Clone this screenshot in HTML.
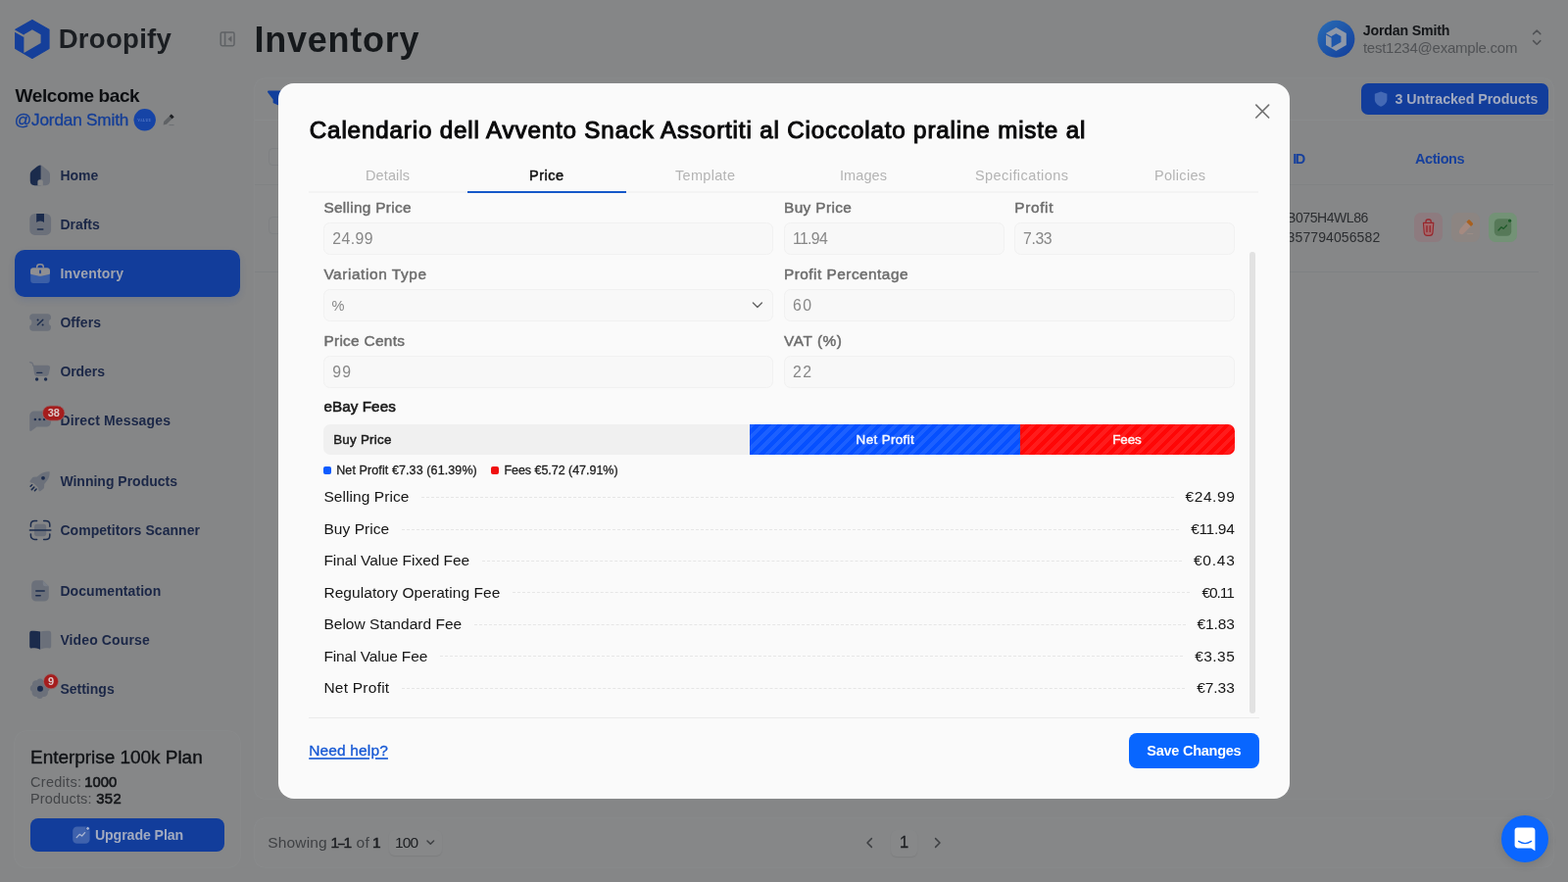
<!DOCTYPE html>
<html lang="en">
<head>
<meta charset="utf-8">
<title>Droopify - Inventory</title>
<style>
*{box-sizing:border-box;margin:0;padding:0}
html,body{width:1600px;height:900px;overflow:hidden}
body{background:#858687;font-family:"Liberation Sans",sans-serif;color:#111;position:relative}
.t{position:absolute;white-space:pre;font-family:"Liberation Sans",sans-serif}
.a{position:absolute}
svg.a{left:0;top:0;overflow:visible}
.stripe{background-image:repeating-linear-gradient(135deg,rgba(255,255,255,.09) 0,rgba(255,255,255,.09) 4px,rgba(255,255,255,0) 4px,rgba(255,255,255,0) 8px)}
.dl{position:absolute;height:0;border-top:1px dashed #e6e6e6}
.inp{position:absolute;height:32.4px;border:1px solid #f1f1f1;border-radius:6.5px;background:#f8f8f8}
</style>
</head>
<body>
<!-- ================= BACKGROUND PAGE (dimmed) ================= -->
<div class="a" style="left:260px;top:80px;width:1325px;height:735px;border-radius:10px;background:#868788;box-shadow:0 0 0 .6px #8a8c8d"></div>
<div class="a" style="left:260px;top:834.5px;width:1325px;height:50.5px;border-radius:10px;background:#868788;box-shadow:0 0 0 .6px #8a8c8d"></div>
<div class="a" style="left:260px;top:121.6px;width:1325px;height:1px;background:#898b8c"></div>
<div class="a" style="left:1316px;top:187.5px;width:269px;height:1px;background:#808284"></div>
<div class="a" style="left:1316px;top:277px;width:254px;height:1px;background:#7f8183"></div>
<div class="a" style="left:260px;top:187.5px;width:30px;height:1px;background:#808284"></div>
<div class="a" style="left:260px;top:277px;width:30px;height:1px;background:#7f8183"></div>
<div class="a" style="left:273.5px;top:151px;width:18px;height:18px;border:1px solid #7f8183;border-radius:4px"></div>
<div class="a" style="left:273.5px;top:221px;width:18px;height:18px;border:1px solid #7f8183;border-radius:4px"></div>
<!-- active nav -->
<div class="a" style="left:15px;top:255px;width:230px;height:48px;border-radius:10px;background:#123d9b;box-shadow:0 3px 7px rgba(18,61,155,.14)"></div>
<!-- plan card -->
<div class="a" style="left:15px;top:746px;width:230px;height:139px;border-radius:12px;background:#868788;box-shadow:0 0 0 .6px #8a8c8d"></div>
<div class="a" style="left:31px;top:835px;width:198px;height:34px;border-radius:8px;background:#123d9b"></div>
<!-- untracked button -->
<div class="a" style="left:1389px;top:85.2px;width:191px;height:31.6px;border-radius:7px;background:#123d9b"></div>
<!-- action buttons -->
<div class="a" style="left:1442.8px;top:217.2px;width:29.4px;height:29.4px;border-radius:7px;background:#8d7b7f"></div>
<div class="a" style="left:1480.6px;top:217.2px;width:29.4px;height:29.4px;border-radius:7px;background:#8c8582"></div>
<div class="a" style="left:1518.6px;top:217.2px;width:29.4px;height:29.4px;border-radius:7px;background:#739276"></div>
<!-- pagination select + page -->
<div class="a" style="left:396.5px;top:847px;width:54px;height:26px;border-radius:6px;background:#878889;box-shadow:0 1px 1.5px rgba(0,0,0,.07)"></div>
<div class="a" style="left:908.5px;top:846.5px;width:27.5px;height:27.5px;border-radius:6px;background:#878889;box-shadow:0 1px 1.5px rgba(0,0,0,.08)"></div>
<!-- chat bubble -->
<div class="a" style="left:1532px;top:832px;width:48px;height:48px;border-radius:50%;background:#0a66ff;box-shadow:0 2px 10px rgba(0,0,0,.12)"></div>

<svg class="a" width="1600" height="900" viewBox="0 0 1600 900">
<defs>
<linearGradient id="av" x1="0" y1="0" x2="1" y2="1"><stop offset="0" stop-color="#2a6db5"/><stop offset="1" stop-color="#123d9b"/></linearGradient>
</defs>
<!-- logo -->
<g id="logo">
<path d="M32.9 20.4 50 30.2V49.6L32.9 59.4 15.7 49.6V30.2Z" fill="#153f9a" stroke="#153f9a" stroke-width="1.2" stroke-linejoin="round"/>
<path d="M32.9 30.3 41.6 35.3V43.9L24.4 53.9V35.2Z" fill="#858687"/>
<path d="M24.9 37.2 13.8 30.9" stroke="#858687" stroke-width="2.1" fill="none"/>
</g>
<!-- collapse icon -->
<g fill="none" stroke="#5f6265" stroke-width="1.5">
<rect x="225.2" y="32.9" width="13.8" height="13.8" rx="1.6"/>
<path d="M229.6 32.9V46.7"/>
<path d="M236.1 37.2 232.9 39.8 236.1 42.4Z" fill="#5f6265" stroke-width=".6"/>
</g>
<!-- user badge + pencil -->
<circle cx="147.7" cy="122.3" r="11.2" fill="#1644a6"/>
<g>
<path d="M174.8 116.4 177.6 119.2 170 126.8 166.6 127.4 167.2 124Z" fill="#5f6265"/>
<path d="M174.8 116.4 177.6 119.2 175.6 121.2 172.8 118.4Z" fill="#1d1f22"/>
<path d="M172.5 127.6H177.5" stroke="#6c6f72" stroke-width="1"/>
</g>
<!-- avatar -->
<circle cx="1363.4" cy="39.8" r="19" fill="url(#av)"/>
<g>
<path d="M1363.4 28 1373.8 34V46L1363.4 52 1353 46V34Z" fill="#8f98a8"/>
<path d="M1363.4 34.2 1368.4 37.1V42.9L1358.6 48.6V37Z" fill="#1e56aa"/>
<path d="M1359 38.3 1352.4 34.5" stroke="#1e56aa" stroke-width="1.2"/>
</g>
<g fill="none" stroke="#505255" stroke-width="1.5" stroke-linecap="round" stroke-linejoin="round">
<path d="M1564.6 34.6 1568.2 31 1571.8 34.6"/>
<path d="M1564.6 41.6 1568.2 45.2 1571.8 41.6"/>
</g>
<!-- filter icon -->
<path d="M274 93.6H291L284.6 101.2V106.6L279.6 104.4V101.2Z" fill="#123f9c" stroke="#123f9c" stroke-width="2" stroke-linejoin="round"/>
<!-- shield icon -->
<path d="M1409.1 93.4 1415.4 95.8V101.2C1415.4 104.8 1412.8 107.4 1409.1 108.7 1405.4 107.4 1402.8 104.8 1402.8 101.2V95.8Z" fill="#4469b5"/>
<!-- NAV ICONS -->
<!-- home -->
<g>
<path d="M41 168.6C42 168.6 43 169 44.6 170.4L48.6 173.8C50.4 175.4 51 176.4 51 178.6V184.6C51 187.6 49.4 189.2 46.4 189.2H35.4C32.4 189.2 30.8 187.6 30.8 184.6V178.6C30.8 176.4 31.4 175.4 33.2 173.8L37.2 170.4C38.8 169 40 168.6 41 168.6Z" fill="#6b707a"/>
<path d="M41.6 168.7V189.2H35.4C32.4 189.2 30.8 187.6 30.8 184.6V178.6C30.8 176.4 31.4 175.4 33.2 173.8L37.2 170.4C38.8 169 40.4 168.5 41.6 168.7Z" fill="#1b2b4c"/>
</g>
<path d="M38.4 189.6V185.4C38.4 184 39.4 183.2 40.8 183.2H41.4C42.8 183.2 43.8 184 43.8 185.4V189.6Z" fill="#858687"/>
<!-- drafts -->
<g>
<rect x="30.3" y="217.9" width="21.8" height="22" rx="5.4" fill="#6b707a"/>
<path d="M37.2 217.9H45V227.1L43.4 226.1C42.2 225.3 40 225.3 38.8 226.1L37.2 227.1Z" fill="#1b2b4c"/>
<path d="M38.4 234H43.8" stroke="#1b2b4c" stroke-width="1.5" stroke-linecap="round"/>
</g>
<!-- inventory (active) -->
<g>
<rect x="31.2" y="277" width="19.6" height="12" rx="3" fill="#3b5fa7"/>
<path d="M37.7 273.4V272.4C37.7 270.8 38.9 269.7 40.5 269.7H41.5C43.1 269.7 44.3 270.8 44.3 272.4V273.4" fill="none" stroke="#8f8f92" stroke-width="1.5"/>
<path d="M34 273.2H48C49.8 273.2 51 274.4 51 276.2V278.4C51 279.2 50.6 279.8 49.8 280L41.8 281.7C41.2 281.8 40.8 281.8 40.2 281.7L32.2 280C31.4 279.8 31 279.2 31 278.4V276.2C31 274.4 32.2 273.2 34 273.2Z" fill="#8f8f92"/>
<rect x="40.1" y="275.6" width="1.8" height="3.6" rx=".6" fill="#1d4291"/>
</g>
<!-- offers -->
<g>
<path d="M33.6 320.2H48.6C50.6 320.2 52 321.6 52 323.4V325.4C50.6 325.8 49.8 327.2 49.8 329 49.8 330.8 50.6 332.2 52 332.6V334.6C52 336.4 50.6 337.8 48.6 337.8H33.6C31.6 337.8 30.2 336.4 30.2 334.6V332.6C31.6 332.2 32.4 330.8 32.4 329 32.4 327.2 31.6 325.8 30.2 325.4V323.4C30.2 321.6 31.6 320.2 33.6 320.2Z" fill="#6b707a"/>
<path d="M38.4 331.6 43.8 326.2" stroke="#1b2b4c" stroke-width="1.4" stroke-linecap="round"/>
<circle cx="38.6" cy="326.6" r="1" fill="#1b2b4c"/><circle cx="43.6" cy="331.4" r="1" fill="#1b2b4c"/>
</g>
<!-- orders -->
<g>
<path d="M30.6 369.6 32 370C32.8 370.2 33.2 370.6 33.4 371.4L34 373.4" fill="none" stroke="#6b707a" stroke-width="1.3" stroke-linecap="round"/>
<path d="M33.7 372.8H48.4C50.4 372.8 51.4 374 51 375.8L49.8 381.2C49.4 383 48.2 383.8 46.4 383.8H38.2C36.4 383.8 35.4 383 35 381.2Z" fill="#6b707a"/>
<path d="M37.8 380.4H42.8" stroke="#1b2b4c" stroke-width="1.3" stroke-linecap="round"/>
<circle cx="37.6" cy="387" r="1.7" fill="#1b2b4c"/><circle cx="46.6" cy="387" r="1.7" fill="#1b2b4c"/>
</g>
<!-- direct messages -->
<g>
<path d="M35.4 419.4H47C50 419.4 52 421.4 52 424.4V430.6C52 433.6 50 435.6 47 435.6H37.6L32.2 439.6C31 440.4 30.2 440 30.2 438.6V424.4C30.2 421.4 32.4 419.4 35.4 419.4Z" fill="#6b707a"/>
<circle cx="35.9" cy="428" r="1.25" fill="#1b2b4c"/><circle cx="40.5" cy="428" r="1.25" fill="#1b2b4c"/><circle cx="45.1" cy="428" r="1.25" fill="#1b2b4c"/>
</g>
<!-- winning products (rocket) -->
<g>
<path d="M50.6 481.2C50.9 484.5 50 488 48 490.5L45.2 494 45 497.2C45 498 44.6 498.6 44 499L41.4 501C40.4 501.6 39.6 501.2 39.4 500.2L38.8 497.6 34.2 493 31.6 492.4C30.6 492.2 30.2 491.4 30.8 490.4L32.8 487.8C33.2 487.2 33.8 486.8 34.6 486.8L37.8 486.6 41.3 483.8C43.8 481.8 47.3 480.9 50.6 481.2Z" fill="#6b707a"/>
<circle cx="44" cy="487.8" r="1.9" fill="#1b2b4c"/>
<path d="M31.1 496.3 32.7 494.7M32.3 499.6 34.8 497.1M35.4 500.7 37.1 499" stroke="#1b2b4c" stroke-width="1.5" stroke-linecap="round"/>
</g>
<!-- competitors scanner -->
<g>
<rect x="35" y="534.8" width="12.2" height="12.4" rx="3" fill="#6b707a"/>
<g fill="none" stroke="#1b2b4c" stroke-width="1.5" stroke-linecap="round">
<path d="M31.4 537.2V535.6C31.4 533.2 33 531.6 35.4 531.6H37.6"/>
<path d="M44.6 531.6H46.8C49.2 531.6 50.8 533.2 50.8 535.6V537.2"/>
<path d="M50.8 545V546.4C50.8 548.8 49.2 550.4 46.8 550.4H44.6"/>
<path d="M37.6 550.4H35.4C33 550.4 31.4 548.8 31.4 546.4V545"/>
<path d="M30.4 541H51.8"/>
</g>
</g>
<!-- documentation -->
<g>
<path d="M37 592.2H43.6L49.8 598.4V608.8C49.8 611.8 48 613.6 45 613.6H37C34 613.6 32.2 611.8 32.2 608.8V597C32.2 594 34 592.2 37 592.2Z" fill="#6b707a"/>
<path d="M43.8 592.6 49.4 598.2H46.2C44.6 598.2 43.8 597.4 43.8 595.8Z" fill="#7a7f88"/>
<path d="M36.8 603H45.2M36.8 607.8H41.2" stroke="#1b2b4c" stroke-width="1.5" stroke-linecap="round"/>
</g>
<!-- video course (book) -->
<g>
<path d="M41 644.6C43.8 643.7 47 643.5 50 643.8 51.4 644 52.2 644.8 52.2 646.2V659.4C52.2 660.8 51.2 661.5 50 661.4 47 661.2 43.8 661.6 41 662.8Z" fill="#6b707a"/>
<path d="M41 644.6C38.2 643.7 35.2 643.5 32.2 643.8 30.8 644 30.2 644.8 30.2 646.2V659.4C30.2 660.8 31 661.5 32.2 661.4 35.2 661.2 38.2 661.6 41 662.8Z" fill="#1b2b4c"/>
</g>
<!-- settings -->
<g>
<path d="M41 692.4C42.4 692.4 43.4 693 44 694.2 45 694 46.4 694.2 47.4 695.2 48.4 696.2 48.6 697.4 48.4 698.6 49.8 699.2 50.8 700.4 50.8 702 50.8 703.6 50 704.8 48.8 705.6 49.2 707 48.8 708.6 47.6 709.8 46.4 711 45 711.2 43.8 710.8 43.2 712.2 42.2 713 40.6 713 39 713 38 712.2 37.4 710.8 36 711.2 34.6 710.8 33.6 709.6 32.6 708.4 32.4 707 32.8 705.8 31.6 705 30.8 703.8 30.8 702.4 30.8 700.8 31.6 699.6 33 699 32.8 697.6 33.2 696.2 34.2 695.2 35.2 694.2 36.6 694 37.8 694.2 38.4 693 39.6 692.4 41 692.4Z" fill="#6b707a"/>
<circle cx="41" cy="702.8" r="3" fill="#1b2b4c"/>
</g>
<!-- upgrade icon -->
<g>
<rect x="74.2" y="843.4" width="17.4" height="17.4" rx="4.4" fill="#3f62ad"/>
<path d="M78.2 854.6 81.2 851.4 83.6 853 86.6 849.6" fill="none" stroke="#aab6d2" stroke-width="1.3" stroke-linecap="round" stroke-linejoin="round"/>
<circle cx="89.6" cy="845.4" r="1.9" fill="#aab6d2" stroke="#123d9b" stroke-width=".9"/>
</g>
<!-- action icons -->
<g>
<path d="M1452.4 227.4H1462.8L1462 237.4C1461.8 239.4 1460.8 240.4 1458.8 240.4H1456.4C1454.4 240.4 1453.4 239.4 1453.2 237.4Z" fill="#a3686b" stroke="#98262c" stroke-width="1.1" stroke-linejoin="round"/>
<path d="M1455 227V226C1455 224.8 1455.8 224 1457 224H1458.2C1459.4 224 1460.2 224.8 1460.2 226V227" fill="none" stroke="#98262c" stroke-width="1.3"/>
<path d="M1456 230.6V236.6M1459.2 230.6V236.6" stroke="#98262c" stroke-width="1.4" stroke-linecap="round"/>
</g>
<g>
<path d="M1496.4 226.2 1501 230.8 1493.6 238.2C1492.6 239.2 1491.4 239.4 1490.2 238.8 1489 238.2 1488.6 237 1489 235.8 1489.4 234.6 1489.8 233.6 1490.8 232.4Z" fill="#a58a80"/>
<path d="M1498 224.8C1498.6 224.2 1499.4 224.2 1500 224.8L1502.6 227.4C1503.2 228 1503.2 228.8 1502.6 229.4L1501 231 1496.4 226.4Z" fill="#a9601e"/>
<path d="M1497.6 238.6H1502.8" stroke="#9c8e86" stroke-width="1" stroke-linecap="round"/>
</g>
<g>
<rect x="1524.8" y="223.2" width="17.4" height="17.6" rx="4.6" fill="#567958"/>
<path d="M1529 235 1532 231.8 1534.2 233.4 1537.4 230" fill="none" stroke="#1f5a2a" stroke-width="1.3" stroke-linecap="round" stroke-linejoin="round"/>
<circle cx="1540.6" cy="225.2" r="1.6" fill="#1d5a29"/>
</g>
<!-- pagination chevrons -->
<g fill="none" stroke="#3d3f42" stroke-width="1.5" stroke-linecap="round" stroke-linejoin="round">
<path d="M436 858 439.3 861.3 442.6 858"/>
<path d="M889.4 855.6 885 860 889.4 864.4"/>
<path d="M954.6 855.6 959 860 954.6 864.4"/>
</g>
<!-- chat icon -->
<path d="M1548.4 844.4H1563.6C1565.2 844.4 1566.4 845.6 1566.4 847.2V868.2L1562.4 865.4H1548.4C1546.8 865.4 1545.6 864.2 1545.6 862.6V847.2C1545.6 845.6 1546.8 844.4 1548.4 844.4Z" fill="#ffffff"/>
<path d="M1549.6 858.4C1553.6 861.2 1558.6 861.2 1562.6 858.4" fill="none" stroke="#0a66ff" stroke-width="1.3" stroke-linecap="round"/>
</svg>
<span class="t" style="left:140.2px;top:119.6px;font-size:4px;line-height:5px;color:#6f8fd6;letter-spacing:.2px;font-family:'Liberation Serif',serif">VALUE</span>
<span class="t bg" style="left:59.70px;top:23.40px;font-size:27.6px;font-weight:700;color:#1a1d21;line-height:33px;letter-spacing:0.252px;">Droopify</span>
<span class="t bg" style="left:259.60px;top:19.00px;font-size:36px;font-weight:700;color:#15181b;line-height:43px;letter-spacing:0.744px;">Inventory</span>
<span class="t bg" style="left:15.60px;top:86.00px;font-size:19px;font-weight:700;color:#0c0e11;line-height:23px;letter-spacing:-0.423px;">Welcome back</span>
<span class="t bg" style="left:14.80px;top:111.50px;font-size:17.2px;font-weight:400;color:#133d97;line-height:21px;letter-spacing:-0.185px;-webkit-text-stroke:0.3px #133d97;">@Jordan Smith</span>
<span class="t bg nv" style="left:61.40px;top:170.90px;font-size:14px;font-weight:700;color:#1b2747;line-height:17px;letter-spacing:-0.002px;">Home</span>
<span class="t bg nv" style="left:61.40px;top:220.90px;font-size:14px;font-weight:700;color:#1b2747;line-height:17px;letter-spacing:-0.034px;">Drafts</span>
<span class="t bg nv" style="left:61.40px;top:270.90px;font-size:14px;font-weight:700;color:#9fa4b0;line-height:17px;letter-spacing:0.198px;">Inventory</span>
<span class="t bg nv" style="left:61.40px;top:320.90px;font-size:14px;font-weight:700;color:#1b2747;line-height:17px;letter-spacing:0.073px;">Offers</span>
<span class="t bg nv" style="left:61.40px;top:370.90px;font-size:14px;font-weight:700;color:#1b2747;line-height:17px;letter-spacing:-0.064px;">Orders</span>
<span class="t bg nv" style="left:61.40px;top:420.90px;font-size:14px;font-weight:700;color:#1b2747;line-height:17px;letter-spacing:0.149px;">Direct Messages</span>
<span class="t bg nv" style="left:61.40px;top:482.90px;font-size:14px;font-weight:700;color:#1b2747;line-height:17px;letter-spacing:-0.004px;">Winning Products</span>
<span class="t bg nv" style="left:61.40px;top:532.90px;font-size:14px;font-weight:700;color:#1b2747;line-height:17px;letter-spacing:0.056px;">Competitors Scanner</span>
<span class="t bg nv" style="left:61.40px;top:594.90px;font-size:14px;font-weight:700;color:#1b2747;line-height:17px;letter-spacing:0.084px;">Documentation</span>
<span class="t bg nv" style="left:61.40px;top:644.90px;font-size:14px;font-weight:700;color:#1b2747;line-height:17px;letter-spacing:0.118px;">Video Course</span>
<span class="t bg nv" style="left:61.40px;top:694.90px;font-size:14px;font-weight:700;color:#1b2747;line-height:17px;letter-spacing:0.009px;">Settings</span>
<span class="t bg" style="left:31.00px;top:760.80px;font-size:19px;font-weight:400;color:#0f1114;line-height:23px;letter-spacing:-0.036px;-webkit-text-stroke:.35px #0f1114;">Enterprise 100k Plan</span>
<span class="t bg" style="left:31.00px;top:789.80px;font-size:14.5px;font-weight:400;color:#434548;line-height:17px;letter-spacing:0.29px;">Credits:</span>
<span class="t bg" style="left:86.30px;top:789.30px;font-size:14.8px;font-weight:400;color:#141619;line-height:18px;letter-spacing:0.026px;-webkit-text-stroke:0.6px #141619;">1000</span>
<span class="t bg" style="left:31.00px;top:806.50px;font-size:14.5px;font-weight:400;color:#434548;line-height:17px;letter-spacing:0.156px;">Products:</span>
<span class="t bg" style="left:98.30px;top:806.00px;font-size:14.8px;font-weight:400;color:#141619;line-height:18px;letter-spacing:0.348px;-webkit-text-stroke:0.6px #141619;">352</span>
<span class="t bg" style="left:96.90px;top:843.50px;font-size:14.2px;font-weight:700;color:#a2aabf;line-height:17px;letter-spacing:-0.096px;">Upgrade Plan</span>
<span class="t bg" style="left:1390.70px;top:22.50px;font-size:14.2px;font-weight:700;color:#141619;line-height:17px;letter-spacing:-0.169px;">Jordan Smith</span>
<span class="t bg" style="left:1390.90px;top:40.40px;font-size:15px;font-weight:400;color:#505255;line-height:18px;letter-spacing:-0.236px;">test1234@example.com</span>
<span class="t bg" style="left:1423.60px;top:92.50px;font-size:14.2px;font-weight:700;color:#a2aabf;line-height:17px;letter-spacing:-0.045px;">3 Untracked Products</span>
<span class="t bg" style="left:1319.30px;top:153.70px;font-size:14.5px;font-weight:700;color:#17409c;line-height:17px;letter-spacing:-1.5px;">ID</span>
<span class="t bg" style="left:1444.00px;top:153.70px;font-size:14.5px;font-weight:700;color:#17409c;line-height:17px;letter-spacing:-0.429px;">Actions</span>
<span class="t bg" style="left:1313.00px;top:214.30px;font-size:14px;font-weight:400;color:#2b2d30;line-height:17px;letter-spacing:-0.419px;">B075H4WL86</span>
<span class="t bg" style="left:1313.60px;top:233.50px;font-size:14px;font-weight:400;color:#2b2d30;line-height:17px;letter-spacing:0.106px;">357794056582</span>
<span class="t bg" style="left:273.30px;top:850.30px;font-size:15.5px;font-weight:400;color:#3f4144;line-height:19px;letter-spacing:0.139px;">Showing</span>
<span class="t bg" style="left:337.60px;top:850.30px;font-size:15.5px;font-weight:400;color:#1c1e21;line-height:19px;-webkit-text-stroke:0.5px #1c1e21;">1</span>
<span class="t bg" style="left:345.00px;top:850.30px;font-size:15.5px;font-weight:400;color:#1c1e21;line-height:19px;-webkit-text-stroke:0.4px #1c1e21;transform:scaleX(.78);transform-origin:0 0;">–</span>
<span class="t bg" style="left:350.60px;top:850.30px;font-size:15.5px;font-weight:400;color:#1c1e21;line-height:19px;-webkit-text-stroke:0.5px #1c1e21;">1</span>
<span class="t bg" style="left:363.60px;top:850.30px;font-size:15.5px;font-weight:400;color:#3f4144;line-height:19px;letter-spacing:0.363px;">of</span>
<span class="t bg" style="left:380.00px;top:850.30px;font-size:15.5px;font-weight:400;color:#1c1e21;line-height:19px;-webkit-text-stroke:0.5px #1c1e21;">1</span>
<span class="t bg" style="left:403.00px;top:850.30px;font-size:15.5px;font-weight:400;color:#1c1e21;line-height:19px;letter-spacing:-0.887px;">100</span>
<span class="t bg" style="left:918.01px;top:849.30px;font-size:16.5px;font-weight:400;color:#1c1e21;line-height:20px;-webkit-text-stroke:0.3px #1c1e21;">1</span>
<svg class="a" width="1600" height="900" viewBox="0 0 1600 900">
<rect x="43.4" y="414" width="22.6" height="15.2" rx="7.6" fill="#a51d1d" stroke="#8d7475" stroke-width=".8"/>
<circle cx="52" cy="695.3" r="7.6" fill="#a51d1d" stroke="#8d7475" stroke-width=".8"/>
</svg>
<span class="t bd" style="left:48.67px;top:415.10px;font-size:11px;font-weight:700;color:#dcc8c8;line-height:13px;">38</span>
<span class="t bd" style="left:48.94px;top:688.90px;font-size:11px;font-weight:700;color:#dcc8c8;line-height:13px;">9</span>

<!-- ================= MODAL ================= -->
<div class="a" style="left:284px;top:84.8px;width:1032px;height:730.2px;border-radius:16px;background:#fafafa"></div>
<!-- tabs border -->
<div class="a" style="left:315px;top:194.8px;width:969.4px;height:2.2px;background:#f3f3f3"></div>
<div class="a" style="left:476.5px;top:194.8px;width:162px;height:2.2px;background:#1558c9"></div>
<!-- inputs -->
<div class="inp" style="left:330px;top:227.3px;width:459.4px"></div>
<div class="inp" style="left:800px;top:227.3px;width:224.8px"></div>
<div class="inp" style="left:1035px;top:227.3px;width:224.8px"></div>
<div class="inp" style="left:330px;top:295.3px;width:459.4px"></div>
<div class="inp" style="left:800px;top:295.3px;width:459.8px"></div>
<div class="inp" style="left:330px;top:363.3px;width:459.4px"></div>
<div class="inp" style="left:800px;top:363.3px;width:459.8px"></div>
<!-- fee bar -->
<div class="a" style="left:330px;top:432.5px;width:930px;height:31.8px;border-radius:7px;background:#f0f0f0;overflow:hidden">
  <div class="a stripe" style="left:435.2px;top:0;width:275.6px;height:100%;background-color:#0650ff"></div>
  <div class="a stripe" style="left:710.8px;top:0;width:219.2px;height:100%;background-color:#ff0606"></div>
</div>
<!-- legend squares -->
<div class="a" style="left:330px;top:476px;width:8px;height:8px;border-radius:2px;background:#0d5bff"></div>
<div class="a" style="left:501.4px;top:476px;width:8px;height:8px;border-radius:2px;background:#f01010"></div>
<i class="dl" style="left:430.4px;top:507.0px;width:767.2px"></i>
<i class="dl" style="left:410.2px;top:539.5px;width:793.0px"></i>
<i class="dl" style="left:492.2px;top:571.9px;width:713.8px"></i>
<i class="dl" style="left:523.4px;top:604.4px;width:691.0px"></i>
<i class="dl" style="left:484.2px;top:636.9px;width:725.4px"></i>
<i class="dl" style="left:449.4px;top:669.3px;width:757.8px"></i>
<i class="dl" style="left:410.2px;top:701.8px;width:799.0px"></i>
<!-- scrollbar -->
<div class="a" style="left:1275px;top:257px;width:5.8px;height:471px;border-radius:3px;background:#e2e2e2"></div>
<!-- footer -->
<div class="a" style="left:315px;top:731.6px;width:970px;height:1px;background:#ebebeb"></div>
<div class="a" style="left:1151.8px;top:748px;width:133.2px;height:35.8px;border-radius:8px;background:#0866ff"></div>
<svg class="a" width="1600" height="900" viewBox="0 0 1600 900">
<path d="M1281.8 107.2 1294.6 120M1294.6 107.2 1281.8 120" stroke="#747474" stroke-width="1.7" stroke-linecap="round"/>
<path d="M768.4 309 772.9 313.5 777.4 309" fill="none" stroke="#666" stroke-width="1.4" stroke-linecap="round" stroke-linejoin="round"/>
</svg>
<span class="t md" style="left:315.80px;top:117.90px;font-size:24.2px;font-weight:400;color:#0a0a0b;line-height:29px;letter-spacing:0.84px;-webkit-text-stroke:1.05px #0a0a0b;">Calendario dell Avvento Snack Assortiti al Cioccolato praline miste al</span>
<span class="t md" style="left:373.00px;top:170.50px;font-size:14.5px;font-weight:400;color:#b4b4b4;line-height:17px;letter-spacing:0.112px;">Details</span>
<span class="t md" style="left:540.00px;top:170.50px;font-size:14.5px;font-weight:400;color:#111;line-height:17px;letter-spacing:0.488px;-webkit-text-stroke:.5px #111;">Price</span>
<span class="t md" style="left:689.00px;top:170.50px;font-size:14.5px;font-weight:400;color:#b4b4b4;line-height:17px;letter-spacing:0.308px;">Template</span>
<span class="t md" style="left:857.00px;top:170.50px;font-size:14.5px;font-weight:400;color:#b4b4b4;line-height:17px;letter-spacing:0.087px;">Images</span>
<span class="t md" style="left:995.00px;top:170.50px;font-size:14.5px;font-weight:400;color:#b4b4b4;line-height:17px;letter-spacing:0.425px;">Specifications</span>
<span class="t md" style="left:1178.00px;top:170.50px;font-size:14.5px;font-weight:400;color:#b4b4b4;line-height:17px;letter-spacing:0.29px;">Policies</span>
<span class="t md" style="left:330.40px;top:202.80px;font-size:15.4px;font-weight:400;color:#6c6c6c;line-height:18px;letter-spacing:0.304px;-webkit-text-stroke:0.45px #6c6c6c;">Selling Price</span>
<span class="t md" style="left:800.00px;top:202.80px;font-size:15.4px;font-weight:400;color:#6c6c6c;line-height:18px;letter-spacing:0.366px;-webkit-text-stroke:0.45px #6c6c6c;">Buy Price</span>
<span class="t md" style="left:1035.20px;top:202.80px;font-size:15.4px;font-weight:400;color:#6c6c6c;line-height:18px;letter-spacing:0.676px;-webkit-text-stroke:0.45px #6c6c6c;">Profit</span>
<span class="t md" style="left:330.40px;top:270.60px;font-size:15.4px;font-weight:400;color:#6c6c6c;line-height:18px;letter-spacing:0.587px;-webkit-text-stroke:0.45px #6c6c6c;">Variation Type</span>
<span class="t md" style="left:800.00px;top:270.60px;font-size:15.4px;font-weight:400;color:#6c6c6c;line-height:18px;letter-spacing:0.474px;-webkit-text-stroke:0.45px #6c6c6c;">Profit Percentage</span>
<span class="t md" style="left:330.40px;top:338.60px;font-size:15.4px;font-weight:400;color:#6c6c6c;line-height:18px;letter-spacing:0.305px;-webkit-text-stroke:0.45px #6c6c6c;">Price Cents</span>
<span class="t md" style="left:800.00px;top:338.60px;font-size:15.4px;font-weight:400;color:#6c6c6c;line-height:18px;letter-spacing:0.568px;-webkit-text-stroke:0.45px #6c6c6c;">VAT (%)</span>
<span class="t md" style="left:339.20px;top:234.30px;font-size:15.8px;font-weight:400;color:#878787;line-height:19px;letter-spacing:0.467px;">24.99</span>
<span class="t md" style="left:809.00px;top:234.30px;font-size:15.8px;font-weight:400;color:#878787;line-height:19px;letter-spacing:-0.64px;">11.94</span>
<span class="t md" style="left:1044.00px;top:234.30px;font-size:15.8px;font-weight:400;color:#878787;line-height:19px;letter-spacing:-0.383px;">7.33</span>
<span class="t md" style="left:338.50px;top:302.80px;font-size:14.6px;font-weight:400;color:#878787;line-height:18px;">%</span>
<span class="t md" style="left:809.00px;top:302.30px;font-size:15.8px;font-weight:400;color:#878787;line-height:19px;letter-spacing:1.422px;">60</span>
<span class="t md" style="left:339.20px;top:370.30px;font-size:15.8px;font-weight:400;color:#878787;line-height:19px;letter-spacing:1.222px;">99</span>
<span class="t md" style="left:809.00px;top:370.30px;font-size:15.8px;font-weight:400;color:#878787;line-height:19px;letter-spacing:1.422px;">22</span>
<span class="t md" style="left:330.40px;top:406.40px;font-size:15.2px;font-weight:400;color:#1a1a1a;line-height:18px;letter-spacing:0.099px;-webkit-text-stroke:0.6px #1a1a1a;">eBay Fees</span>
<span class="t md" style="left:340.20px;top:441.20px;font-size:13.4px;font-weight:400;color:#1b1b1b;line-height:16px;letter-spacing:0.236px;-webkit-text-stroke:0.45px #1b1b1b;">Buy Price</span>
<span class="t md" style="left:873.60px;top:441.20px;font-size:13.4px;font-weight:400;color:#f4f7ff;line-height:16px;letter-spacing:0.376px;-webkit-text-stroke:0.45px #f4f7ff;">Net Profit</span>
<span class="t md" style="left:1135.20px;top:441.20px;font-size:13.4px;font-weight:400;color:#fff4f4;line-height:16px;letter-spacing:-0.06px;-webkit-text-stroke:0.45px #fff4f4;">Fees</span>
<span class="t md" style="left:343.20px;top:473.10px;font-size:12.5px;font-weight:400;color:#1c1c1c;line-height:15px;letter-spacing:0.106px;-webkit-text-stroke:.3px #1c1c1c;">Net Profit €7.33 (61.39%)</span>
<span class="t md" style="left:514.40px;top:473.10px;font-size:12.5px;font-weight:400;color:#1c1c1c;line-height:15px;letter-spacing:-0.031px;-webkit-text-stroke:.3px #1c1c1c;">Fees €5.72 (47.91%)</span>
<span class="t md" style="left:330.40px;top:497.30px;font-size:15.5px;font-weight:400;color:#161616;line-height:19px;letter-spacing:0.07px;">Selling Price</span>
<span class="t md" style="left:1209.60px;top:497.30px;font-size:15.5px;font-weight:400;color:#161616;line-height:19px;letter-spacing:0.556px;">€24.99</span>
<span class="t md" style="left:330.40px;top:529.77px;font-size:15.5px;font-weight:400;color:#161616;line-height:19px;letter-spacing:0.057px;">Buy Price</span>
<span class="t md" style="left:1215.20px;top:529.77px;font-size:15.5px;font-weight:400;color:#161616;line-height:19px;letter-spacing:-0.333px;">€11.94</span>
<span class="t md" style="left:330.40px;top:562.24px;font-size:15.5px;font-weight:400;color:#161616;line-height:19px;letter-spacing:-0.041px;">Final Value Fixed Fee</span>
<span class="t md" style="left:1218.00px;top:562.24px;font-size:15.5px;font-weight:400;color:#161616;line-height:19px;letter-spacing:0.751px;">€0.43</span>
<span class="t md" style="left:330.40px;top:594.71px;font-size:15.5px;font-weight:400;color:#161616;line-height:19px;letter-spacing:0.071px;">Regulatory Operating Fee</span>
<span class="t md" style="left:1226.40px;top:594.71px;font-size:15.5px;font-weight:400;color:#161616;line-height:19px;letter-spacing:-1.06px;">€0.11</span>
<span class="t md" style="left:330.40px;top:627.18px;font-size:15.5px;font-weight:400;color:#161616;line-height:19px;letter-spacing:0.02px;">Below Standard Fee</span>
<span class="t md" style="left:1221.60px;top:627.18px;font-size:15.5px;font-weight:400;color:#161616;line-height:19px;letter-spacing:-0.149px;">€1.83</span>
<span class="t md" style="left:330.40px;top:659.65px;font-size:15.5px;font-weight:400;color:#161616;line-height:19px;letter-spacing:-0.102px;">Final Value Fee</span>
<span class="t md" style="left:1219.20px;top:659.65px;font-size:15.5px;font-weight:400;color:#161616;line-height:19px;letter-spacing:0.451px;">€3.35</span>
<span class="t md" style="left:330.40px;top:692.12px;font-size:15.5px;font-weight:400;color:#161616;line-height:19px;letter-spacing:0.243px;">Net Profit</span>
<span class="t md" style="left:1221.20px;top:692.12px;font-size:15.5px;font-weight:400;color:#161616;line-height:19px;letter-spacing:-0.049px;">€7.33</span>
<span class="t md" style="left:315.20px;top:755.60px;font-size:15.5px;font-weight:400;color:#1457d4;line-height:19px;letter-spacing:0.145px;-webkit-text-stroke:0.3px #1457d4;text-decoration:underline;text-underline-offset:2px;text-decoration-thickness:1.5px;text-decoration-color:#3f76dc;">Need help?</span>
<span class="t md" style="left:1170.30px;top:757.50px;font-size:14.5px;font-weight:700;color:#ffffff;line-height:17px;letter-spacing:-0.249px;">Save Changes</span>
</body>
</html>
